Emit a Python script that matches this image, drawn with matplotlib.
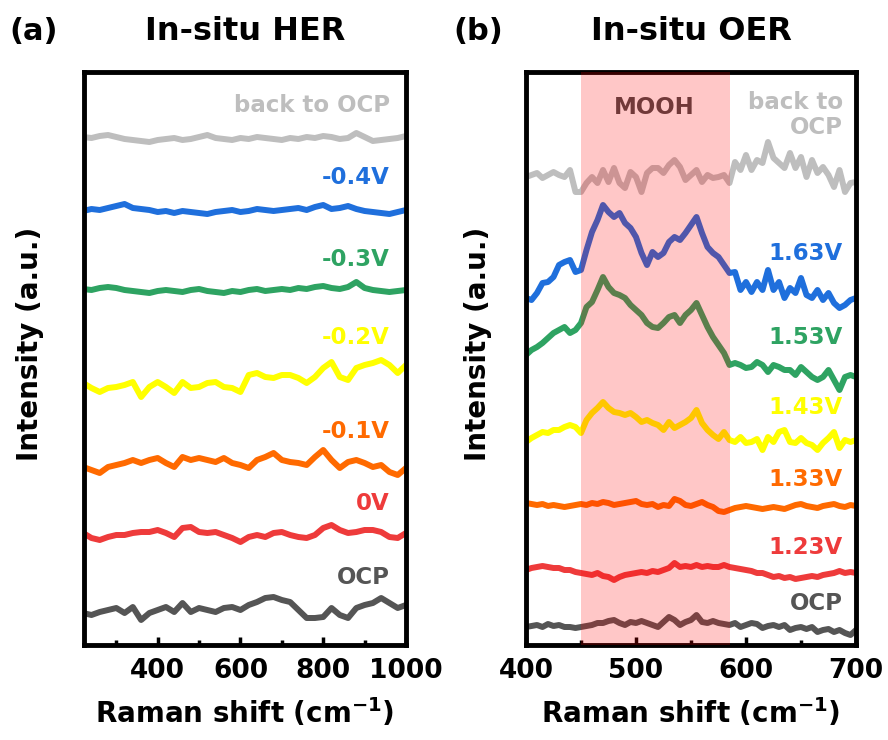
import matplotlib.pyplot as plt
import numpy as np
from matplotlib.ticker import MultipleLocator

plt.rcParams['font.family'] = 'DejaVu Sans'
plt.rcParams['font.weight'] = 'bold'
plt.rcParams['axes.labelweight'] = 'bold'
plt.rcParams['mathtext.fontset'] = 'dejavusans'
plt.rcParams['mathtext.default'] = 'bf'

# (a) in-situ HER, stacked spectra, Raman shift 220-1000 cm-1 every 20
shift_her = np.arange(220, 1001, 20)
her_back = [508, 507, 509, 510, 508, 506, 505, 504, 503, 505,
            506, 507, 505, 506, 508, 510, 507, 506, 505, 507,
            506, 508, 507, 506, 505, 507, 506, 508, 507, 509,
            508, 506, 507, 512, 508, 504, 505, 506, 507, 509]
her_m04 = [434, 436, 435, 437, 439, 441, 437, 436, 435, 433,
           434, 432, 434, 433, 432, 431, 433, 434, 435, 433,
           434, 436, 435, 434, 435, 436, 437, 435, 438, 440,
           436, 437, 439, 436, 434, 433, 432, 431, 433, 435]
her_m03 = [356, 355, 357, 358, 357, 355, 354, 353, 352, 354,
           355, 354, 353, 355, 356, 354, 353, 352, 354, 353,
           355, 356, 354, 355, 356, 355, 357, 356, 358, 359,
           357, 356, 358, 363, 357, 355, 354, 353, 354, 355]
her_m02 = [262, 257, 253, 257, 258, 260, 263, 248, 258, 263,
           258, 252, 263, 257, 258, 262, 263, 258, 257, 253,
           270, 272, 268, 267, 270, 270, 267, 262, 268, 277,
           283, 268, 265, 277, 280, 282, 285, 280, 272, 280]
her_m01 = [178, 175, 172, 178, 180, 182, 185, 182, 185, 187,
           182, 178, 188, 185, 187, 185, 183, 187, 182, 180,
           177, 185, 188, 192, 185, 183, 182, 180, 188, 195,
           185, 177, 183, 185, 182, 178, 180, 173, 170, 177]
her_0 = [112, 107, 105, 108, 110, 110, 112, 113, 113, 115,
         112, 108, 117, 118, 113, 112, 113, 110, 107, 103,
         108, 110, 108, 112, 113, 110, 108, 107, 110, 117,
         120, 115, 112, 113, 115, 115, 113, 108, 107, 112]
her_ocp = [32, 30, 33, 35, 37, 32, 38, 25, 32, 35,
           38, 33, 42, 33, 37, 35, 33, 37, 38, 35,
           40, 43, 47, 48, 45, 43, 35, 27, 27, 28,
           37, 30, 27, 37, 40, 42, 47, 42, 37, 40]

# (b) in-situ OER, Raman shift 400-700 cm-1 every 5
shift_oer = np.arange(400, 701, 5)
oer_back = [468, 470, 472, 467, 470, 473, 470, 468, 475, 453,
            453, 462, 468, 462, 475, 463, 477, 462, 457, 473,
            468, 453, 472, 477, 477, 472, 480, 485, 478, 465,
            470, 475, 463, 470, 467, 468, 470, 462, 483, 475,
            490, 475, 485, 482, 503, 487, 482, 477, 492, 477,
            488, 468, 485, 472, 478, 470, 458, 475, 453, 462,
            463]
oer_163 = [347, 345, 352, 362, 363, 368, 380, 383, 385, 373,
           375, 395, 413, 425, 440, 433, 428, 432, 422, 417,
           408, 392, 380, 393, 388, 392, 403, 408, 405, 412,
           420, 428, 412, 398, 392, 388, 380, 372, 373, 355,
           363, 353, 363, 355, 375, 355, 363, 347, 357, 352,
           367, 350, 347, 355, 345, 352, 342, 337, 340, 345,
           347]
oer_153 = [290, 295, 298, 302, 307, 312, 315, 318, 312, 315,
           322, 338, 343, 355, 368, 358, 352, 350, 347, 340,
           335, 330, 322, 318, 317, 322, 328, 330, 322, 330,
           335, 342, 330, 318, 308, 300, 292, 280, 282, 280,
           277, 278, 283, 280, 273, 280, 278, 275, 275, 270,
           278, 273, 268, 265, 268, 275, 265, 255, 268, 270,
           268]
oer_143 = [203, 207, 210, 213, 212, 215, 215, 218, 220, 218,
           212, 225, 232, 237, 243, 237, 233, 232, 230, 232,
           228, 223, 225, 222, 220, 215, 223, 217, 220, 223,
           227, 235, 222, 215, 210, 206, 213, 205, 203, 208,
           202, 203, 206, 195, 208, 203, 213, 215, 203, 202,
           207, 202, 200, 195, 202, 207, 213, 197, 205, 203,
           205]
oer_133 = [142, 141, 140, 141, 139, 140, 139, 138, 139, 140,
           141, 140, 142, 141, 143, 142, 140, 141, 142, 143,
           144, 141, 140, 141, 138, 140, 139, 146, 144, 140,
           139, 141, 143, 140, 138, 134, 133, 135, 137, 138,
           139, 138, 137, 136, 137, 138, 137, 136, 138, 140,
           141, 139, 138, 137, 139, 140, 141, 139, 138, 140,
           139]
oer_123 = [75, 77, 78, 79, 78, 77, 77, 75, 75, 73,
           72, 71, 70, 72, 69, 68, 65, 68, 70, 71,
           72, 73, 72, 74, 73, 75, 77, 82, 78, 79,
           78, 80, 78, 79, 78, 78, 80, 78, 77, 76,
           75, 74, 72, 72, 70, 68, 69, 67, 68, 66,
           67, 68, 69, 68, 70, 71, 72, 74, 72, 73,
           72]
oer_ocp = [18, 19, 20, 18, 21, 19, 20, 18, 18, 17,
           18, 19, 20, 22, 22, 24, 25, 22, 20, 23,
           22, 24, 22, 20, 18, 23, 28, 25, 20, 23,
           25, 30, 23, 22, 24, 22, 21, 20, 22, 18,
           20, 22, 21, 17, 19, 20, 18, 20, 15, 17,
           18, 16, 18, 13, 15, 16, 13, 15, 12, 10,
           15]

her_series = [her_back, her_m04, her_m03, her_m02, her_m01, her_0, her_ocp]
her_labels = ['back to OCP', '-0.4V', '-0.3V', '-0.2V', '-0.1V', '0V', 'OCP']
her_label_y = [539, 467, 385, 308, 213, 142, 68]

oer_series = [oer_back, oer_163, oer_153, oer_143, oer_133, oer_123, oer_ocp]
oer_labels = ['back to\nOCP', '1.63V', '1.53V', '1.43V', '1.33V', '1.23V', 'OCP']
oer_label_y = [530, 392, 308, 238, 165, 98, 42]

colors = ['#BEBEBE', '#1F6FDC', '#2EA362', '#FFFF00', '#FF6A00', '#EE3B3B', '#555555']

fig = plt.figure(figsize=(8.88, 7.4), dpi=100)
ax1 = fig.add_axes([84/888, 1 - 645/740, 322/888, 573/740])
ax2 = fig.add_axes([526/888, 1 - 645/740, 330/888, 573/740])

for y, c in zip(her_series, colors):
    ax1.plot(shift_her, y, color=c, lw=4.3)
for lab, ly, c in zip(her_labels, her_label_y, colors):
    ax1.text(961, ly, lab, color=c, fontsize=16.5, ha='right', va='center')

for y, c in zip(oer_series, colors):
    ax2.plot(shift_oer, y, color=c, lw=4.3)
for lab, ly, c in zip(oer_labels, oer_label_y, colors):
    ax2.text(688, ly, lab, color=c, fontsize=16.5, ha='right', va='center',
             multialignment='right', linespacing=1.15)

# MOOH band, laid over the traces
ax2.axvspan(450, 585, color='red', alpha=0.22, lw=0, zorder=5)
ax2.text(517, 538, 'MOOH', color='#4a4a4a', fontsize=16.5, ha='center', va='center')

ax1.set_xlim(222, 1000)
ax1.xaxis.set_major_locator(MultipleLocator(200))
ax1.xaxis.set_minor_locator(MultipleLocator(100))
ax2.set_xlim(400, 700)
ax2.xaxis.set_major_locator(MultipleLocator(100))
ax2.xaxis.set_minor_locator(MultipleLocator(50))

for ax in (ax1, ax2):
    for s in ax.spines.values():
        s.set_linewidth(3.5)
    ax.set_ylim(0, 573)
    ax.set_yticks([])
    ax.tick_params(axis='x', which='both', direction='in', top=False, labelsize=19, pad=9)
    ax.tick_params(axis='x', which='major', length=6, width=2.5)
    ax.tick_params(axis='x', which='minor', length=3.5, width=2.5)
    ax.set_xlabel(r'Raman shift (cm$^{-1}$)', fontsize=20, fontweight='bold', labelpad=9)

fig.text(34/888, 1 - 32/740, '(a)', fontsize=22, ha='center', va='center')
fig.text(245/888, 1 - 32/740, 'In-situ HER', fontsize=23, ha='center', va='center')
fig.text(478/888, 1 - 32/740, '(b)', fontsize=22, ha='center', va='center')
fig.text(691/888, 1 - 32/740, 'In-situ OER', fontsize=23, ha='center', va='center')
fig.text(30/888, 1 - 344/740, 'Intensity (a.u.)', fontsize=20, rotation=90, ha='center', va='center')
fig.text(478/888, 1 - 344/740, 'Intensity (a.u.)', fontsize=20, rotation=90, ha='center', va='center')

fig.savefig('out.png', dpi=100)
